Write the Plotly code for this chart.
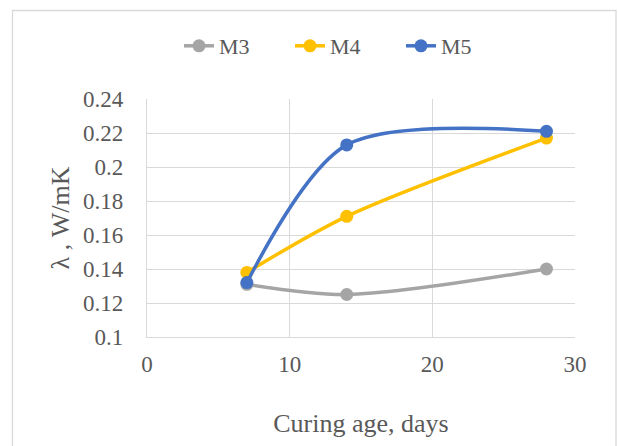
import plotly.graph_objects as go

days = [7, 14, 28]
m3 = [0.131, 0.125, 0.140]
m4 = [0.138, 0.171, 0.217]
m5 = [0.132, 0.213, 0.221]
series_names = ["M3", "M4", "M5"]
colors = ["#A5A5A5", "#FFC000", "#4472C4"]
y_ticks = [0.1, 0.12, 0.14, 0.16, 0.18, 0.2, 0.22, 0.24]
y_ticktext = ["0.1", "0.12", "0.14", "0.16", "0.18", "0.2", "0.22", "0.24"]
x_ticks = [0, 10, 20, 30]

FONT = "Liberation Serif"
GRAY = "#595959"

fig = go.Figure()
for name, vals, c in zip(series_names, [m3, m4, m5], colors):
    fig.add_trace(go.Scatter(
        x=days, y=vals, name=name, mode="lines+markers",
        line=dict(color=c, width=3.5, shape="spline", smoothing=0.85),
        marker=dict(color=c, size=13),
    ))

W, H = 618, 446
L, R, T, B = 147, 43, 99, 109
pw, ph = W - L - R, H - T - B

def px2paper_x(px):
    return (px - L) / pw

def px2paper_y(py):
    return (H - B - py) / ph

tickfont = dict(family=FONT, size=23, color=GRAY)
titlefont = dict(family=FONT, size=26, color=GRAY)

fig.update_layout(
    width=W, height=H,
    margin=dict(l=L, r=R, t=T, b=B),
    paper_bgcolor="white", plot_bgcolor="white",
    font=dict(family=FONT, size=22, color=GRAY),
    showlegend=True,
    legend=dict(orientation="h", x=px2paper_x(179), xanchor="left", y=px2paper_y(46), yanchor="middle",
                font=dict(family=FONT, size=22, color=GRAY),
                entrywidth=66, entrywidthmode="pixels", bgcolor="rgba(0,0,0,0)"),
    xaxis=dict(range=[0, 30], tickvals=x_ticks, showgrid=True, gridcolor="#D9D9D9", gridwidth=1.3,
               showline=True, linecolor="#D9D9D9", linewidth=1.3, zeroline=False,
               ticks="outside", ticklen=6, tickcolor="rgba(0,0,0,0)", tickfont=tickfont,
               title=dict(text="Curing age, days", standoff=38, font=titlefont)),
    yaxis=dict(range=[0.1, 0.24], tickvals=y_ticks, ticktext=y_ticktext, showgrid=True, gridcolor="#D9D9D9",
               gridwidth=1.3, showline=True, linecolor="#D9D9D9", linewidth=1.3, zeroline=False,
               ticks="outside", ticklen=18, tickcolor="rgba(0,0,0,0)", tickfont=tickfont,
               title=dict(text="λ , W/mK", standoff=5, font=titlefont)),
    shapes=[dict(type="rect", xref="paper", yref="paper",
                 x0=px2paper_x(12.5), x1=px2paper_x(616), y0=px2paper_y(460), y1=px2paper_y(10.5),
                 line=dict(color="#D9D9D9", width=1.3), fillcolor="rgba(0,0,0,0)", layer="below")],
)

fig.write_html("out.html")
